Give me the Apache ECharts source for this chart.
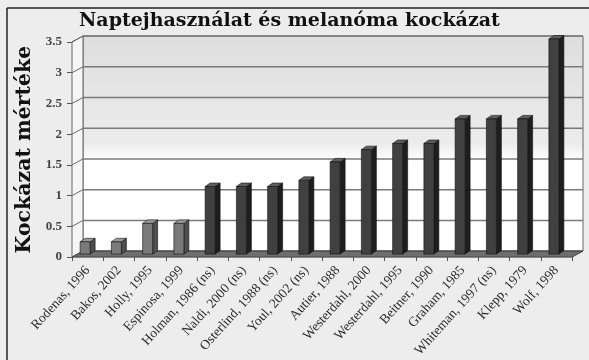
<!DOCTYPE html>
<html><head><meta charset="utf-8">
<script src="https://cdn.jsdelivr.net/npm/echarts@6/dist/echarts.min.js"></script>
<style>html,body{margin:0;padding:0;background:#ededed}#c{width:589px;height:360px}</style>
</head><body><div id="c"></div>
<script>
const categories = ["Rodenas, 1996","Bakos, 2002","Holly, 1995","Espinosa, 1999","Holman, 1986 (ns)","Naldi, 2000 (ns)","Osterlind, 1988 (ns)","Youl, 2002 (ns)","Autier, 1988","Westerdahl, 2000","Westerdahl, 1995","Beitner, 1990","Graham, 1985","Whiteman, 1997 (ns)","Klepp, 1979","Wolf, 1998"];
const values = [0.2,0.2,0.5,0.5,1.1,1.1,1.1,1.2,1.5,1.7,1.8,1.8,2.2,2.2,2.2,3.5];
const yTicks = [0,0.5,1,1.5,2,2.5,3,3.5];
const titleText = "Naptejhasználat és melanóma kockázat";
const yName = "Kockázat mértéke";

const DX = 11, DY = 6; // depth of the 3D box
const chart = echarts.init(document.getElementById('c'));

function wallItem(params, api) {
  const cs = params.coordSys;
  const x0 = cs.x, x1 = cs.x + cs.width;
  const yb = api.coord([0, 0])[1];
  const yt = api.coord([0, 3.5])[1];
  return {type:'group', children:[
    {type:'polygon', shape:{points:[[x0+DX,yt-DY],[x1+DX,yt-DY],[x1+DX,yb-DY],[x0+DX,yb-DY]]},
     style:{fill:new echarts.graphic.LinearGradient(0,0,0,1,[{offset:0,color:'#dedede'},{offset:0.5,color:'#ececec'},{offset:0.58,color:'#ffffff'},{offset:1,color:'#ffffff'}]), stroke:'#666', lineWidth:1}},
    {type:'polygon', shape:{points:[[x0,yt],[x0+DX,yt-DY],[x0+DX,yb-DY],[x0,yb]]},
     style:{fill:'#f6f6f6', stroke:'#666', lineWidth:1}}
  ]};
}
function gridItem(params, api) {
  const cs = params.coordSys;
  const x0 = cs.x, x1 = cs.x + cs.width;
  const y = api.coord([0, api.value(1)])[1];
  return {type:'group', children:[
    {type:'line', shape:{x1:x0+DX, y1:y-DY, x2:x1+DX, y2:y-DY}, style:{stroke:'#7a7a7a', lineWidth:1.5}},
    {type:'line', shape:{x1:x0, y1:y, x2:x0+DX, y2:y-DY}, style:{stroke:'#666', lineWidth:1}}
  ]};
}
function floorItem(params, api) {
  const cs = params.coordSys;
  const x0 = cs.x, x1 = cs.x + cs.width;
  const yb = api.coord([0, 0])[1];
  return {type:'polygon', shape:{points:[[x0,yb],[x1,yb],[x1+DX,yb-DY],[x0+DX,yb-DY]]},
    style:{fill:'#6e6e6e', stroke:'#444', lineWidth:1}};
}
function barItem(params, api) {
  const i = api.value(0), v = api.value(1);
  const c = api.coord([i, v]);
  const b = api.coord([i, 0]);
  const cx = c[0], off = 3;
  const l = cx - 7.5, r = cx + 2.5, d = 5, h = 3.5;
  const top = c[1] - off, bot = b[1] - off;
  const light = i < 4;
  const front = light ? '#7a7a7a' : '#404040';
  const side = light ? '#4e4e4e' : '#1e1e1e';
  const topc = light ? '#9c9c9c' : '#5e5e5e';
  return {type:'group', children:[
    {type:'polygon', shape:{points:[[r,top],[r+d,top-h],[r+d,bot-h],[r,bot]]}, style:{fill:side, stroke:'#111', lineWidth:0.6}},
    {type:'polygon', shape:{points:[[l,top],[r,top],[r+d,top-h],[l+d,top-h]]}, style:{fill:topc, stroke:'#111', lineWidth:0.6}},
    {type:'rect', shape:{x:l, y:top, width:r-l, height:bot-top}, style:{fill:front, stroke:'#111', lineWidth:0.6}}
  ]};
}

chart.setOption({
  backgroundColor:'#ededed',
  animation:false,
  title:{text:titleText, left:74, top:7, textStyle:{fontFamily:'DejaVu Serif', fontWeight:'bold', fontSize:19, color:'#111'}},
  grid:{left:72, right:17, top:42, bottom:101},
  xAxis:{type:'category', data:categories, boundaryGap:true,
    axisLine:{show:false},
    axisTick:{show:true, length:4, lineStyle:{color:'#555'}},
    axisLabel:{rotate:48, fontFamily:'Liberation Serif', fontSize:13.5, color:'#2a2a2a', margin:11, interval:0}},
  yAxis:{type:'value', min:0, max:3.5, interval:0.5,
    name:yName, nameLocation:'middle', nameRotate:90, nameGap:36,
    nameTextStyle:{fontFamily:'DejaVu Serif', fontWeight:'bold', fontSize:20.5, color:'#111'},
    axisLine:{show:true, lineStyle:{color:'#555'}},
    axisTick:{show:true, length:5, lineStyle:{color:'#555'}},
    axisLabel:{fontFamily:'Liberation Serif', fontWeight:'bold', fontSize:13, color:'#444', margin:10},
    splitLine:{show:false}},
  graphic:[
    {type:'line', shape:{x1:7, y1:8, x2:7, y2:360}, style:{stroke:'#222', lineWidth:1.5}},
    {type:'line', shape:{x1:7, y1:8, x2:589, y2:8}, style:{stroke:'#222', lineWidth:1.5}}
  ],
  series:[
    {type:'custom', renderItem:wallItem, data:[[0,0]], z:1, silent:true},
    {type:'custom', renderItem:gridItem, data:yTicks.map(t=>[0,t]), z:2, silent:true},
    {type:'custom', renderItem:floorItem, data:[[0,0]], z:3, silent:true},
    {type:'custom', renderItem:barItem, data:values.map((v,i)=>[i,v]), z:4}
  ]
});
</script></body></html>
